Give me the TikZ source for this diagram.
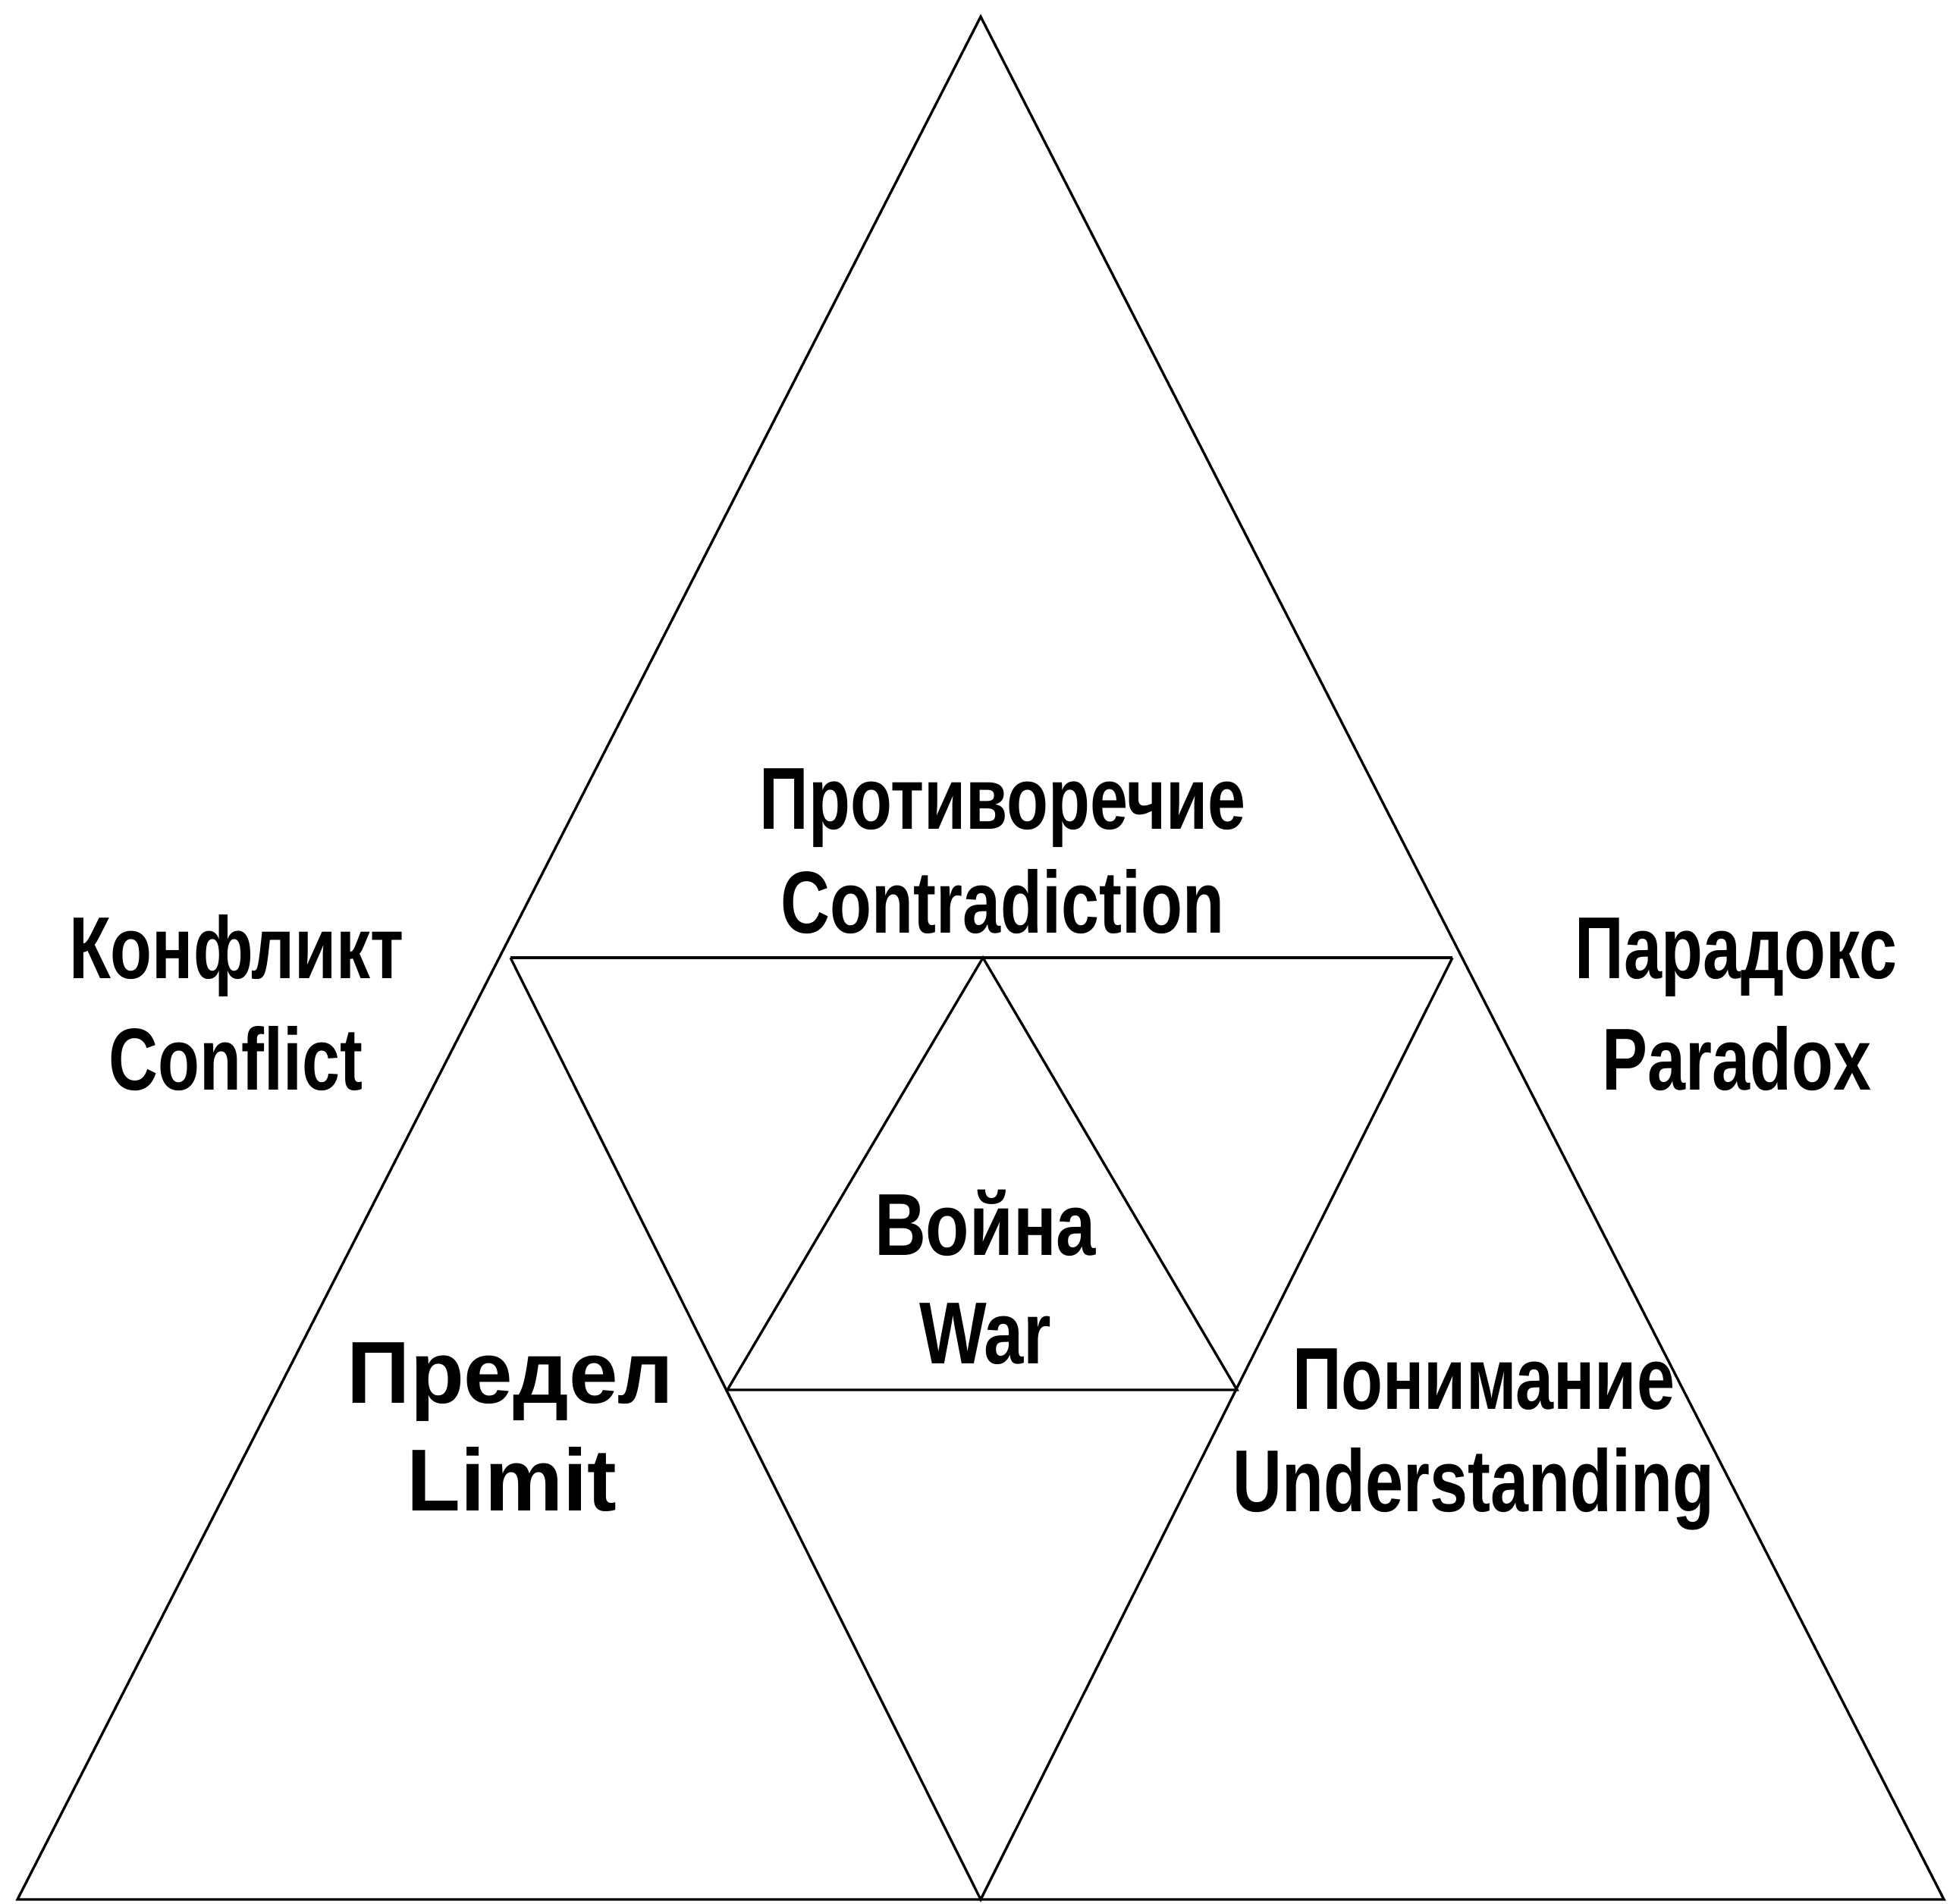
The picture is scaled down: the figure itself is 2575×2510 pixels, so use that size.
\documentclass[tikz,border=0pt]{standalone}
\usepackage{fontspec}
\setmainfont{Liberation Sans}
\newfontfamily\condfont[FakeStretch=0.775]{Liberation Sans}
\newfontfamily\midfont[FakeStretch=0.81]{Liberation Sans}
\newfontfamily\widefont{Liberation Sans}
\begin{document}
\begin{tikzpicture}[x=0.75pt,y=-0.75pt,
  edge/.style={draw=black,line width=2.5pt,line join=miter},
  cond/.style={font=\condfont\bfseries\fontsize{87}{100}\selectfont,anchor=base,inner sep=0pt},
  mid/.style={font=\midfont\bfseries\fontsize{87}{100}\selectfont,anchor=base,inner sep=0pt},
  wide/.style={font=\widefont\bfseries\fontsize{87}{100}\selectfont,anchor=base,inner sep=0pt}]
\useasboundingbox (0,0) rectangle (2575,2510);
% outer triangle
\coordinate (A) at (1293,22);
\coordinate (BL) at (23,2505);
\coordinate (BR) at (2563,2505);
\coordinate (BM) at (1293,2505);
% midline
\coordinate (HL) at (673,1263);
\coordinate (HR) at (1915,1263);
% inner triangle
\coordinate (IA) at (1296,1263);
\coordinate (IL) at (959,1833);
\coordinate (IR) at (1631,1833);

\draw[edge] (A) -- (BR) -- (BL) -- cycle;
\draw[edge] (HL) -- (HR);
\draw[edge] (HL) -- (BM) -- (HR);
\draw[edge] (IA) -- (IR) -- (IL) -- cycle;

\node[cond] (contraRu) at (1322,1093) {Противоречие};
\node[cond] (contraEn) at (1322,1230) {Contradiction};
\node[cond] (conflRu) at (312,1290) {Конфликт};
\node[cond] (conflEn) at (311,1437) {Conflict};
\node[cond] (paraRu) at (2289,1290) {Парадокс};
\node[cond] (paraEn) at (2290,1437) {Paradox};
\node[cond] (undRu) at (1956,1858) {Понимание};
\node[cond] (undEn) at (1943,1993) {Understanding};
\node[mid] (warRu) at (1299,1655) {Война};
\node[mid] (warEn) at (1299,1798) {War};
\node[wide] (limRu) at (673,1850) {Предел};
\node[wide] (limEn) at (675,1992) {Limit};
\end{tikzpicture}
\end{document}
